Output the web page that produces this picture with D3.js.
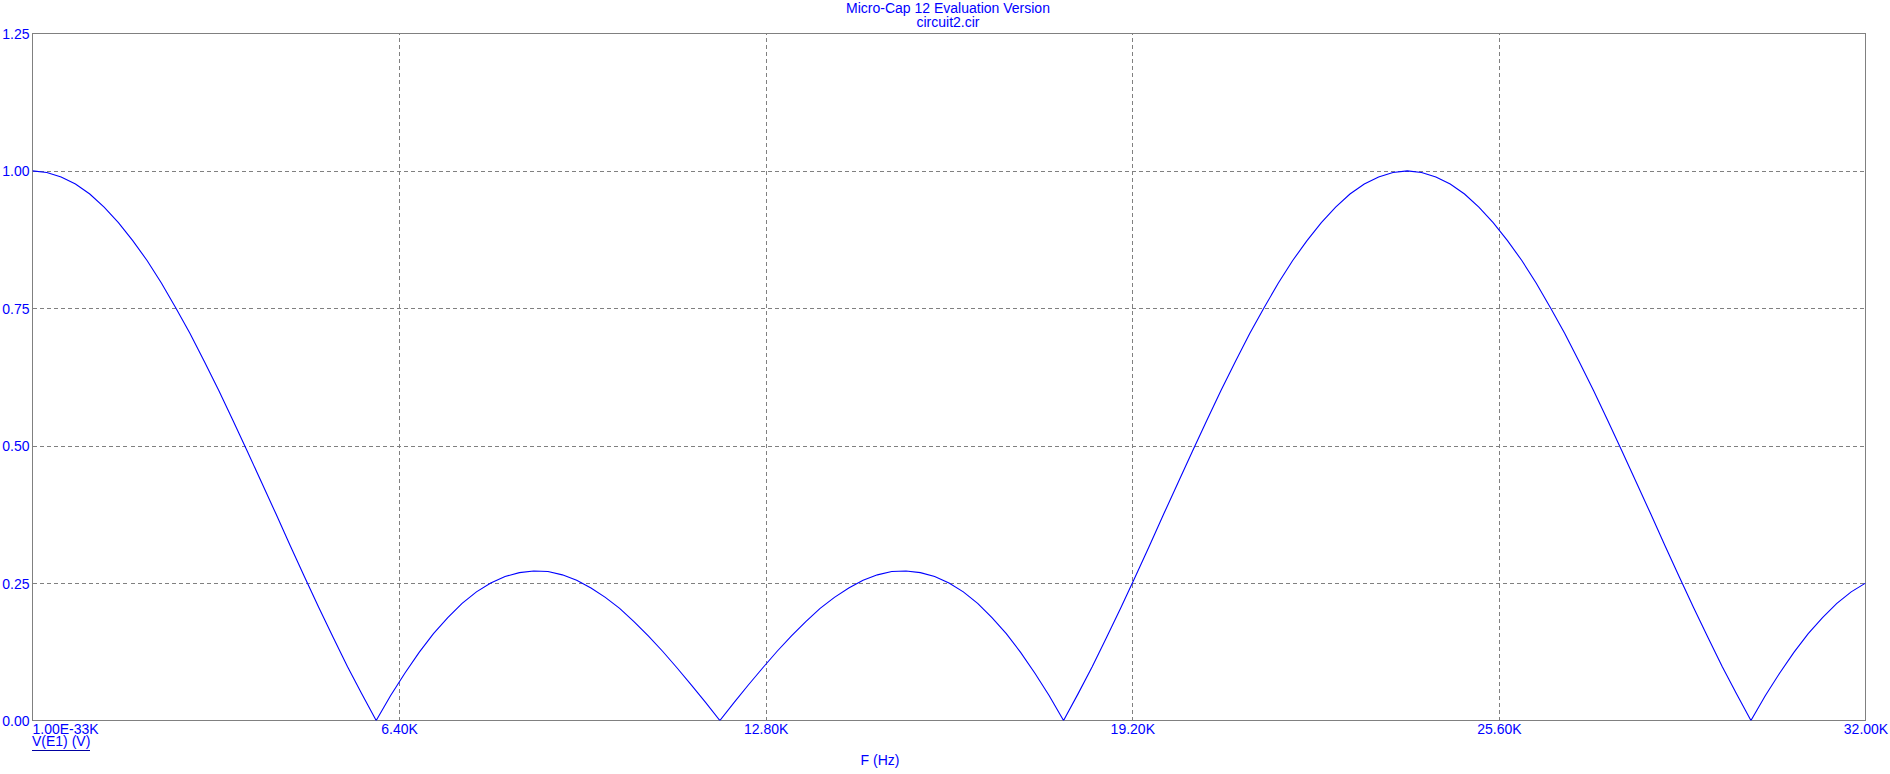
<!DOCTYPE html>
<html>
<head>
<meta charset="utf-8">
<script src="https://cdn.jsdelivr.net/npm/d3@7"></script>
<style>
  html, body { margin: 0; padding: 0; background: #fff; }
  svg { display: block; }
  text { font-family: "Liberation Sans", Arial, sans-serif; }
</style>
</head>
<body>
<svg id="chart" width="1890" height="774"></svg>
<script>
// ---- data ----
const titleLines = ["Micro-Cap 12 Evaluation Version", "circuit2.cir"];
const xLabel = "F (Hz)";
const legendLabel = "V(E1) (V)";

const xTickValues = [0, 6400, 12800, 19200, 25600, 32000];
const xTickLabels = ["1.00E-33K", "6.40K", "12.80K", "19.20K", "25.60K", "32.00K"];
const yTickValues = [0, 0.25, 0.5, 0.75, 1.0, 1.25];
const yTickLabels = ["0.00", "0.25", "0.50", "0.75", "1.00", "1.25"];

const freqHz = [
  0, 250, 500, 750, 1000, 1250, 1500, 1750, 2000, 2250, 2500, 2750, 3000, 3250, 3500, 3750,
  4000, 4250, 4500, 4750, 5000, 5250, 5500, 5750, 6000, 6250, 6500, 6750, 7000, 7250, 7500, 7750,
  8000, 8250, 8500, 8750, 9000, 9250, 9500, 9750, 10000, 10250, 10500, 10750, 11000, 11250, 11500, 11750,
  12000, 12250, 12500, 12750, 13000, 13250, 13500, 13750, 14000, 14250, 14500, 14750, 15000, 15250, 15500, 15750,
  16000, 16250, 16500, 16750, 17000, 17250, 17500, 17750, 18000, 18250, 18500, 18750, 19000, 19250, 19500, 19750,
  20000, 20250, 20500, 20750, 21000, 21250, 21500, 21750, 22000, 22250, 22500, 22750, 23000, 23250, 23500, 23750,
  24000, 24250, 24500, 24750, 25000, 25250, 25500, 25750, 26000, 26250, 26500, 26750, 27000, 27250, 27500, 27750,
  28000, 28250, 28500, 28750, 29000, 29250, 29500, 29750, 30000, 30250, 30500, 30750, 31000, 31250, 31500, 31750,
  32000
];

const vE1 = [
  1.000, 0.997, 0.989, 0.976, 0.958, 0.934, 0.906, 0.873, 0.837, 0.796, 0.751, 0.704, 0.653, 0.601, 0.546, 0.490,
  0.433, 0.376, 0.318, 0.261, 0.205, 0.151, 0.098, 0.048, 0.000, 0.045, 0.086, 0.124, 0.158, 0.187, 0.213, 0.234,
  0.250, 0.262, 0.269, 0.272, 0.271, 0.265, 0.255, 0.241, 0.224, 0.204, 0.180, 0.154, 0.126, 0.096, 0.065, 0.033,
  0.000, 0.033, 0.065, 0.096, 0.126, 0.154, 0.180, 0.204, 0.224, 0.241, 0.255, 0.265, 0.271, 0.272, 0.269, 0.262,
  0.250, 0.234, 0.213, 0.187, 0.158, 0.124, 0.086, 0.045, 0.000, 0.048, 0.098, 0.151, 0.205, 0.261, 0.318, 0.376,
  0.433, 0.490, 0.546, 0.601, 0.653, 0.704, 0.751, 0.796, 0.837, 0.873, 0.906, 0.934, 0.958, 0.976, 0.989, 0.997,
  1.000, 0.997, 0.989, 0.976, 0.958, 0.934, 0.906, 0.873, 0.837, 0.796, 0.751, 0.704, 0.653, 0.601, 0.546, 0.490,
  0.433, 0.376, 0.318, 0.261, 0.205, 0.151, 0.098, 0.048, 0.000, 0.045, 0.086, 0.124, 0.158, 0.187, 0.213, 0.234,
  0.250
];

// ---- layout ----
const plotL = 32.5, plotR = 1865.5, plotT = 33.5, plotB = 720.5;
const blue = "#0000ff";
const gray = "#808080";
const fontSize = 14;

const svg = d3.select("#chart");

const x = d3.scaleLinear().domain([0, 32000]).range([plotL, plotR]);
const y = d3.scaleLinear().domain([0, 1.25]).range([plotB, plotT]);

// grid lines (dashed)
const gridX = svg.append("g")
  .attr("transform", `translate(0,${plotB})`)
  .call(d3.axisBottom(x).tickValues(xTickValues.slice(1, -1)).tickSize(-(plotB - plotT)).tickFormat(""));
gridX.select(".domain").remove();
gridX.selectAll(".tick line")
  .attr("stroke", gray).attr("stroke-dasharray", "4,3").attr("shape-rendering", "crispEdges");

const gridY = svg.append("g")
  .attr("transform", `translate(${plotL},0)`)
  .call(d3.axisLeft(y).tickValues(yTickValues.slice(1, -1)).tickSize(-(plotR - plotL)).tickFormat(""));
gridY.select(".domain").remove();
gridY.selectAll(".tick line")
  .attr("stroke", gray).attr("stroke-dasharray", "4,3").attr("shape-rendering", "crispEdges");

// frame
svg.append("rect")
  .attr("x", plotL).attr("y", plotT)
  .attr("width", plotR - plotL).attr("height", plotB - plotT)
  .attr("fill", "none").attr("stroke", gray).attr("stroke-width", 1)
  .attr("shape-rendering", "crispEdges");

// trace
svg.append("clipPath").attr("id", "plotclip")
  .append("rect").attr("x", plotL).attr("y", plotT - 1).attr("width", plotR - plotL).attr("height", plotB - plotT + 1);

const pts = freqHz.map((f, i) => [f, vE1[i]]);
svg.append("path")
  .datum(pts)
  .attr("clip-path", "url(#plotclip)")
  .attr("fill", "none")
  .attr("stroke", blue)
  .attr("stroke-width", 1.1)
  .attr("d", d3.line().x(d => x(d[0])).y(d => y(d[1])));

// x axis labels
const xAxis = svg.append("g")
  .attr("transform", `translate(0,${plotB})`)
  .call(d3.axisBottom(x).tickValues(xTickValues).tickSize(0).tickPadding(0)
    .tickFormat((d, i) => xTickLabels[i]));
xAxis.select(".domain").remove();
xAxis.selectAll("text")
  .attr("y", 13).attr("dy", null)
  .attr("fill", blue)
  .style("font-size", fontSize + "px")
  .style("font-family", '"Liberation Sans", Arial, sans-serif')
  .attr("text-anchor", (d, i) => i === 0 ? "start" : "middle")
  .attr("x", (d, i) => i === 0 ? -0.5 : 0);

// y axis labels
const yAxis = svg.append("g")
  .attr("transform", `translate(${plotL},0)`)
  .call(d3.axisLeft(y).tickValues(yTickValues).tickSize(0).tickPadding(3)
    .tickFormat((d, i) => yTickLabels[i]));
yAxis.select(".domain").remove();
yAxis.selectAll("text")
  .attr("dy", "0.36em")
  .attr("fill", blue)
  .style("font-size", fontSize + "px")
  .style("font-family", '"Liberation Sans", Arial, sans-serif');

// title
svg.selectAll("text.title")
  .data(titleLines)
  .enter().append("text")
  .attr("class", "title")
  .attr("x", 948)
  .attr("y", (d, i) => 13 + i * 14)
  .attr("text-anchor", "middle")
  .attr("fill", blue)
  .style("font-size", fontSize + "px")
  .text(d => d);

// x axis title
svg.append("text")
  .attr("x", 880).attr("y", 765)
  .attr("text-anchor", "middle")
  .attr("fill", blue)
  .style("font-size", fontSize + "px")
  .text(xLabel);

// legend (underlined)
const leg = svg.append("text")
  .attr("x", 32).attr("y", 746)
  .attr("fill", blue)
  .style("font-size", fontSize + "px")
  .text(legendLabel);
const lb = leg.node().getBBox();
svg.append("line")
  .attr("x1", 32).attr("x2", 32 + lb.width)
  .attr("y1", 750.5).attr("y2", 750.5)
  .attr("stroke", "#0000a0").attr("stroke-width", 1)
  .attr("shape-rendering", "crispEdges");
</script>
</body>
</html>
